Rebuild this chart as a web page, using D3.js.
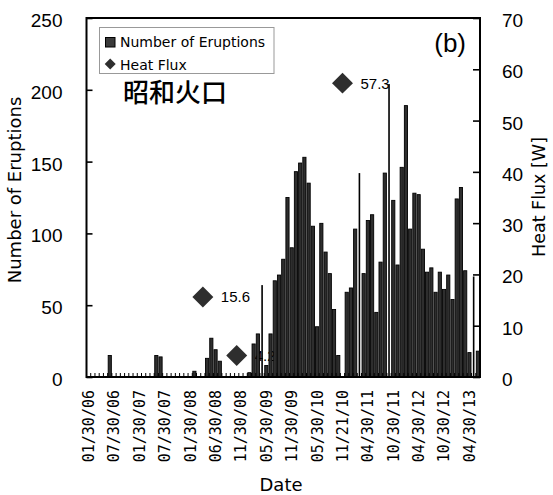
<!DOCTYPE html>
<html>
<head>
<meta charset="utf-8">
<script src="https://cdn.jsdelivr.net/npm/d3@7/dist/d3.min.js"></script>
<style>
  html, body { margin: 0; padding: 0; background: #fff; }
  svg { display: block; }
</style>
</head>
<body>
<svg id="chart" width="553" height="495"></svg>
<script>
// ---------- DATA ----------
// 93 sequential date categories (index); labels shown every 6th category
const categories = d3.range(93);
const tickLabels = ["01/30/06","07/30/06","01/30/07","07/30/07","01/30/08","06/30/08",
  "11/30/08","05/30/09","11/30/09","05/30/10","11/21/10","04/30/11","10/30/11",
  "04/30/12","10/30/12","04/30/13"];
const eruptions = [
  0,0,0,0,0,15,0,0,0,0,
  0,0,0,0,0,0,15,14,0,0,
  0,0,0,0,0,4,0,0,13,27,
  19,11,0,0,0,0,0,0,3,23,
  30,64,8,30,67,71,82,125,90,143,
  149,153,135,105,35,107,87,72,47,15,
  0,59,62,103,142,72,109,113,45,80,
  142,204,123,78,146,189,103,128,127,89,
  73,76,59,73,61,71,54,124,132,74,
  17,70,18
];
// categories whose eruption bar is drawn as a narrow spike in the original
const narrowCategories = [41, 64, 71, 91];
const heatCategories = [27, 35, 60];
const heatFlux = [15.6, 4.2, 57.3];
const leftTicks = [0, 50, 100, 150, 200, 250];
const rightTicks = [0, 10, 20, 30, 40, 50, 60, 70];

// ---------- LAYOUT ----------
const svg = d3.select("#chart");
const L = 86.5, R = 480, T = 18, B = 377;

const x = d3.scaleBand().domain(categories).range([L, R]).paddingInner(0.25).paddingOuter(0.125);
const yL = d3.scaleLinear().domain([0, 250]).range([B, T]);
const yR = d3.scaleLinear().domain([0, 70]).range([B, T]);
const step = x.step();

const numFont = "'Liberation Sans', Arial, sans-serif";
const txtFont = "'DejaVu Sans', sans-serif";

// heat flux data labels (drawn behind bars, as in the original)
heatCategories.forEach((c, k) => {
  const cx = x(c) + x.bandwidth()/2, cy = yR(heatFlux[k]);
  svg.append("text").attr("x", cx + 18).attr("y", cy).attr("dy", "0.36em")
    .attr("font-family", numFont).attr("font-size", 15).attr("fill", "#000")
    .text(heatFlux[k]);
});

// bars
const narrowSet = new Set(narrowCategories);
svg.append("g").selectAll("rect").data(categories.filter(i => eruptions[i] > 0)).join("rect")
  .attr("x", i => narrowSet.has(i) ? x(i) + x.bandwidth()/2 - 0.8 : x(i))
  .attr("width", i => narrowSet.has(i) ? 1.6 : x.bandwidth())
  .attr("y", i => yL(eruptions[i]))
  .attr("height", i => B - yL(eruptions[i]))
  .attr("fill", i => narrowSet.has(i) ? "#000" : "#2e2e2e")
  .attr("stroke", "#000")
  .attr("stroke-width", i => narrowSet.has(i) ? 0 : 0.9);

// minor ticks at category boundaries (inside)
const boundaries = d3.range(categories.length + 1);
svg.append("g").selectAll("line").data(boundaries).join("line")
  .attr("x1", i => L + i * step).attr("x2", i => L + i * step)
  .attr("y1", B).attr("y2", B - 4)
  .attr("stroke", "#000").attr("stroke-width", 1);

// frame
svg.append("rect").attr("x", L).attr("y", T).attr("width", R - L).attr("height", B - T)
  .attr("fill", "none").attr("stroke", "#000").attr("stroke-width", 2);

// left axis
const gL = svg.append("g").attr("transform", `translate(${L},0)`)
  .call(d3.axisLeft(yL).tickValues(leftTicks).tickSize(-6).tickPadding(24).tickFormat(d3.format("d")));
gL.select(".domain").remove();
gL.selectAll(".tick line").attr("stroke", "#000").attr("stroke-width", 1.6);
gL.selectAll(".tick text").attr("font-family", numFont).attr("font-size", 19).attr("fill", "#000").attr("dy", "0.45em");

// right axis
const gR = svg.append("g").attr("transform", `translate(${R},0)`)
  .call(d3.axisRight(yR).tickValues(rightTicks).tickSize(-7).tickPadding(22).tickFormat(d3.format("d")));
gR.select(".domain").remove();
gR.selectAll(".tick line").attr("stroke", "#000").attr("stroke-width", 1.6);
gR.selectAll(".tick text").attr("font-family", numFont).attr("font-size", 19).attr("fill", "#000").attr("dy", "0.45em");

// bottom axis labels
const gB = svg.append("g").attr("transform", `translate(0,${B})`)
  .call(d3.axisBottom(x).tickValues(d3.range(0, categories.length, 6)).tickSize(0)
    .tickFormat((d, i) => tickLabels[i]));
gB.select(".domain").remove();
gB.selectAll(".tick text")
  .attr("font-family", "'DejaVu Sans Mono', monospace").attr("font-size", 15).attr("fill", "#000")
  .attr("transform", "translate(0,13) rotate(-90)")
  .attr("text-anchor", "end").attr("x", 0).attr("y", 0).attr("dy", "0.36em");

// heat flux diamonds
const diamond = d3.symbol(d3.symbolSquare, 220);
svg.append("g").selectAll("path").data(heatCategories).join("path")
  .attr("d", diamond()).attr("fill", "#2e2e2e")
  .attr("transform", (c, k) => `translate(${x(c) + x.bandwidth()/2},${yR(heatFlux[k])}) rotate(45)`);

// legend
const lg = svg.append("g");
lg.append("rect").attr("x", 99.5).attr("y", 27.5).attr("width", 174.5).attr("height", 46)
  .attr("fill", "#fff").attr("stroke", "#999").attr("stroke-width", 1);
lg.append("rect").attr("x", 105.5).attr("y", 37.5).attr("width", 9.5).attr("height", 9.5)
  .attr("fill", "#3a3a3a").attr("stroke", "#000").attr("stroke-width", 1);
lg.append("text").attr("x", 120).attr("y", 47).attr("font-family", txtFont).attr("font-size", 14)
  .attr("fill", "#000").text("Number of Eruptions");
lg.append("path").attr("d", d3.symbol(d3.symbolSquare, 60)()).attr("fill", "#2e2e2e")
  .attr("transform", "translate(110.2,64) rotate(45)");
lg.append("text").attr("x", 120).attr("y", 69.5).attr("font-family", txtFont).attr("font-size", 14)
  .attr("fill", "#000").text("Heat Flux");

// annotations
svg.append("text").attr("x", 123).attr("y", 102).attr("font-family", "'Noto Sans CJK JP', sans-serif")
  .attr("font-size", 26).attr("font-weight", 500).attr("fill", "#000").text("昭和火口");
svg.append("text").attr("x", 466).attr("y", 52).attr("text-anchor", "end")
  .attr("font-family", numFont).attr("font-size", 26).attr("fill", "#000").text("(b)");

// axis titles
svg.append("text").attr("transform", "translate(15,190) rotate(-90)").attr("text-anchor", "middle")
  .attr("dy", "0.36em").attr("font-family", txtFont).attr("font-size", 18).attr("fill", "#000")
  .text("Number of Eruptions");
svg.append("text").attr("transform", "translate(539,197) rotate(-90)").attr("text-anchor", "middle")
  .attr("dy", "0.36em").attr("font-family", txtFont).attr("font-size", 17.5).attr("fill", "#000")
  .text("Heat Flux [W]");
svg.append("text").attr("x", 281).attr("y", 490.5).attr("text-anchor", "middle")
  .attr("font-family", txtFont).attr("font-size", 18).attr("fill", "#000")
  .text("Date");
</script>
</body>
</html>
